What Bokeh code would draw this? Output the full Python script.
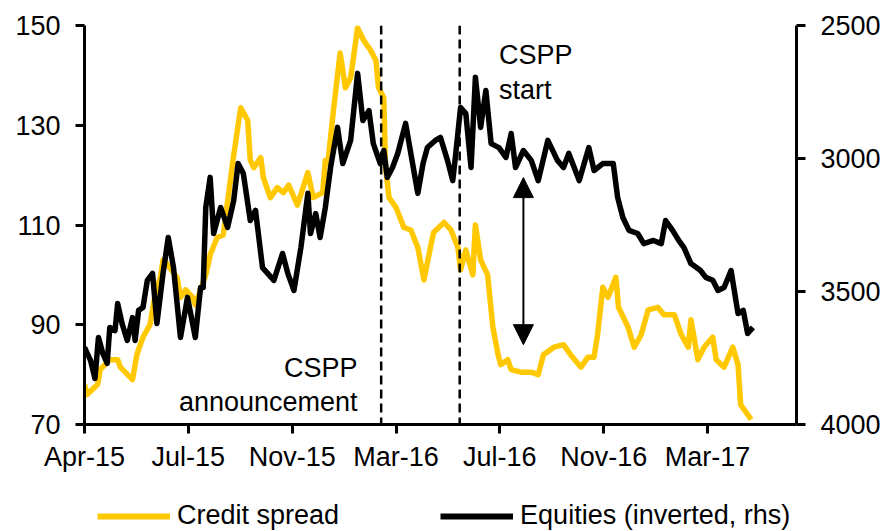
import pandas as pd
from bokeh.plotting import figure
from bokeh.layouts import column
from bokeh.models import (Range1d, LinearAxis, FixedTicker, DatetimeTickFormatter,
                          Span, Arrow, NormalHead, Legend, LegendItem, Label)
from bokeh.embed import file_html
from bokeh.resources import INLINE

# ---------------- data ----------------
# x: days since 1 Apr 2015
start_date = "2015-04-01"
credit_days = [
    0, 3, 15, 18, 29, 38, 41, 55, 60, 67, 75, 81, 87, 90, 93, 106, 110, 116,
    124, 127, 139, 144, 152, 159, 171, 179, 187, 190, 194, 202, 205, 213, 221,
    228, 234, 244, 256, 262, 273, 276, 279, 285, 293, 299, 305, 313, 320, 328,
    334, 337, 343, 345, 349, 357, 366, 374, 382, 389, 393, 400, 412, 420, 428,
    431, 437, 445, 448, 454, 462, 468, 474, 477, 485, 489, 500, 512, 520, 526,
    538, 549, 557, 569, 577, 584, 588, 594, 600, 609, 612, 623, 630, 638, 646,
    657, 664, 676, 684, 692, 695, 703, 710, 720, 724, 733, 743, 749, 752, 760,
    764,
]
credit_spread = [
    78, 76, 78, 81, 83, 83, 81.5, 79, 84, 87.5, 90, 96, 99.5, 103, 102.5, 99.5,
    95.5, 97, 95.5, 94, 100, 104, 107.5, 108, 124, 133.5, 131, 123, 121.5,
    123.5, 119.5, 115.5, 117.5, 116.5, 118, 114, 120.5, 115.5, 116.5, 123,
    122.5, 132.5, 144.5, 137.5, 139.5, 149.5, 147, 145, 143, 137.5, 135.5,
    121.5, 115.5, 113.5, 109.5, 109, 105.5, 99, 102.5, 108.5, 110.5, 109,
    105.5, 101, 105, 100, 110, 103, 100, 89.5, 84, 82, 83, 81, 80.5, 80.5, 80,
    84, 85.5, 86, 84, 81.5, 83.5, 83.5, 88, 97.5, 95.5, 99.5, 93.5, 89.5, 85.5,
    88, 93, 93.5, 92, 92, 88, 85.5, 91, 83, 85.5, 87.5, 83, 81.5, 85.5, 82, 74,
    72, 71,
]
equity_days = [
    0, 7, 12, 16, 21, 26, 29, 35, 38, 43, 49, 55, 58, 62, 67, 72, 78, 83, 90,
    96, 102, 110, 118, 127, 133, 136, 139, 144, 148, 156, 164, 171, 176, 182,
    190, 196, 204, 217, 227, 233, 240, 248, 256, 259, 265, 270, 276, 282, 290,
    296, 305, 313, 319, 326, 331, 339, 343, 347, 353, 359, 368, 374, 382, 388,
    393, 402, 408, 416, 422, 425, 431, 437, 443, 448, 454, 460, 466, 475, 483,
    489, 494, 503, 512, 520, 531, 542, 549, 555, 567, 578, 584, 594, 606, 611,
    617, 624, 634, 641, 652, 661, 666, 674, 681, 687, 695, 706, 712, 720, 726,
    733, 741, 749, 755, 760, 766,
]
equities = [
    3710, 3760, 3827, 3673, 3733, 3770, 3635, 3647, 3545, 3620, 3684, 3598,
    3684, 3571, 3560, 3458, 3432, 3620, 3432, 3297, 3410, 3673, 3522, 3673,
    3485, 3485, 3184, 3071, 3282, 3184, 3259, 3158, 3019, 3056, 3233, 3195,
    3410, 3458, 3357, 3432, 3496, 3335, 3131, 3282, 3207, 3297, 3184, 3034,
    2883, 3019, 2932, 2680, 2857, 2820, 2944, 3019, 2970, 3071, 3034, 2981,
    2868, 2981, 3131, 3019, 2959, 2932, 2921, 3007, 3083, 2996, 2808, 2831,
    3034, 2695, 2883, 2744, 2944, 2959, 2996, 2906, 3034, 2970, 3007, 3083,
    2932, 3007, 3034, 2981, 3083, 2959, 3045, 3019, 3019, 3146, 3222, 3270,
    3282, 3320, 3308, 3320, 3233, 3270, 3308, 3335, 3395, 3421, 3447, 3458,
    3496, 3485, 3421, 3583, 3571, 3658, 3635,
]

x_tick_dates = ["2015-04-01", "2015-07-29", "2015-11-25", "2016-03-23",
                "2016-07-20", "2016-11-16", "2017-03-15"]
left_ticks = [70, 90, 110, 130, 150]
right_ticks = [2500, 3000, 3500, 4000]
x_end_date = "2017-06-25"

cspp_announcement = "2016-03-06"
cspp_start = "2016-06-04"
arrow_date = "2016-08-16"
arrow_top, arrow_bottom = 119.5, 86.0

series_names = ["Credit spread", "Equities (inverted, rhs)"]
GOLD = "#FFC800"
FONT = "Liberation Sans"
FS = "27px"

t0 = pd.Timestamp(start_date)
credit_dates = t0 + pd.to_timedelta(credit_days, unit="D")
equity_dates = t0 + pd.to_timedelta(equity_days, unit="D")


def ms(d):
    return pd.Timestamp(d).value / 1e6


p = figure(width=888, height=475, x_axis_type="datetime",
           x_range=Range1d(ms(start_date), ms(x_end_date)),
           y_range=Range1d(70, 150),
           output_backend="svg", toolbar_location=None,
           min_border_left=84, min_border_right=92,
           min_border_top=25, min_border_bottom=51)
p.extra_y_ranges = {"eq": Range1d(start=4000, end=2500)}
p.outline_line_color = None
p.xgrid.visible = False
p.ygrid.visible = False
p.background_fill_color = "white"
p.border_fill_color = "white"

p.line(credit_dates, credit_spread, line_color=GOLD, line_width=5.5,
       line_join="round")
p.line(equity_dates, equities, y_range_name="eq", line_color="black",
       line_width=5.5, line_join="round")

# right axis
ax_r = LinearAxis(y_range_name="eq", ticker=FixedTicker(ticks=right_ticks))
p.add_layout(ax_r, "right")


def style_axis(ax, standoff):
    ax.axis_line_width = 3
    ax.axis_line_color = "black"
    ax.major_tick_line_width = 3
    ax.major_tick_line_color = "black"
    ax.major_tick_out = 9
    ax.major_tick_in = 0
    ax.minor_tick_line_color = None
    ax.major_label_text_font = FONT
    ax.major_label_text_font_size = FS
    ax.major_label_text_color = "black"
    ax.major_label_standoff = standoff


p.yaxis[0].ticker = FixedTicker(ticks=left_ticks)
style_axis(p.yaxis[0], 15)
style_axis(ax_r, 15)

xa = p.xaxis[0]
xa.ticker = FixedTicker(ticks=[ms(d) for d in x_tick_dates])
fmt = "%b-%y"
xa.formatter = DatetimeTickFormatter(days=fmt, months=fmt, years=fmt,
                                     hours=fmt, hourmin=fmt, minutes=fmt,
                                     minsec=fmt, seconds=fmt,
                                     milliseconds=fmt, microseconds=fmt)
style_axis(xa, 8)

# event lines
for d in [cspp_announcement, cspp_start]:
    p.add_layout(Span(location=ms(d), dimension="height", line_color="black",
                      line_width=2.5, line_dash="9 5"))

# annotations
def add_label(x, y, text, align):
    p.add_layout(Label(x=x, y=y, text=text, text_align=align,
                       text_baseline="alphabetic", text_font=FONT,
                       text_font_size=FS, text_color="black"))

add_label(ms("2016-02-08"), 81.3, "CSPP", "right")
add_label(ms("2016-02-08"), 74.5, "announcement", "right")
add_label(ms("2016-07-19"), 144.0, "CSPP", "left")
add_label(ms("2016-07-19"), 137.0, "start", "left")

p.add_layout(Arrow(start=NormalHead(size=20, fill_color="black", line_color="black"),
                   end=NormalHead(size=20, fill_color="black", line_color="black"),
                   x_start=ms(arrow_date), y_start=arrow_bottom,
                   x_end=ms(arrow_date), y_end=arrow_top,
                   line_color="black", line_width=2))

# ---------------- legend strip below the chart ----------------
# same series, drawn off-frame, only serve as legend samples
leg = figure(width=888, height=56, x_range=Range1d(ms(start_date), ms(x_end_date)),
             y_range=Range1d(0, 1), x_axis_type="datetime",
             output_backend="svg", toolbar_location=None, min_border=0,
             x_axis_location=None, y_axis_location=None)
leg.outline_line_color = None
leg.xgrid.visible = False
leg.ygrid.visible = False
lg_credit = leg.line(credit_dates, credit_spread, line_color=GOLD, line_width=6)
lg_eq = leg.line(equity_dates, equities, line_color="black", line_width=6)

legend = Legend(items=[LegendItem(label=series_names[0], renderers=[lg_credit]),
                       LegendItem(label=series_names[1], renderers=[lg_eq])],
                orientation="horizontal", location=(13, 0),
                glyph_width=73, glyph_height=30, label_height=30,
                label_standoff=7, spacing=101, padding=0, margin=0,
                border_line_color=None, background_fill_alpha=0,
                label_text_font=FONT, label_text_font_size=FS,
                label_text_color="black")
leg.add_layout(legend, "center")

layout = column(p, leg, spacing=0)
open("out.html", "w").write(file_html(layout, INLINE))
